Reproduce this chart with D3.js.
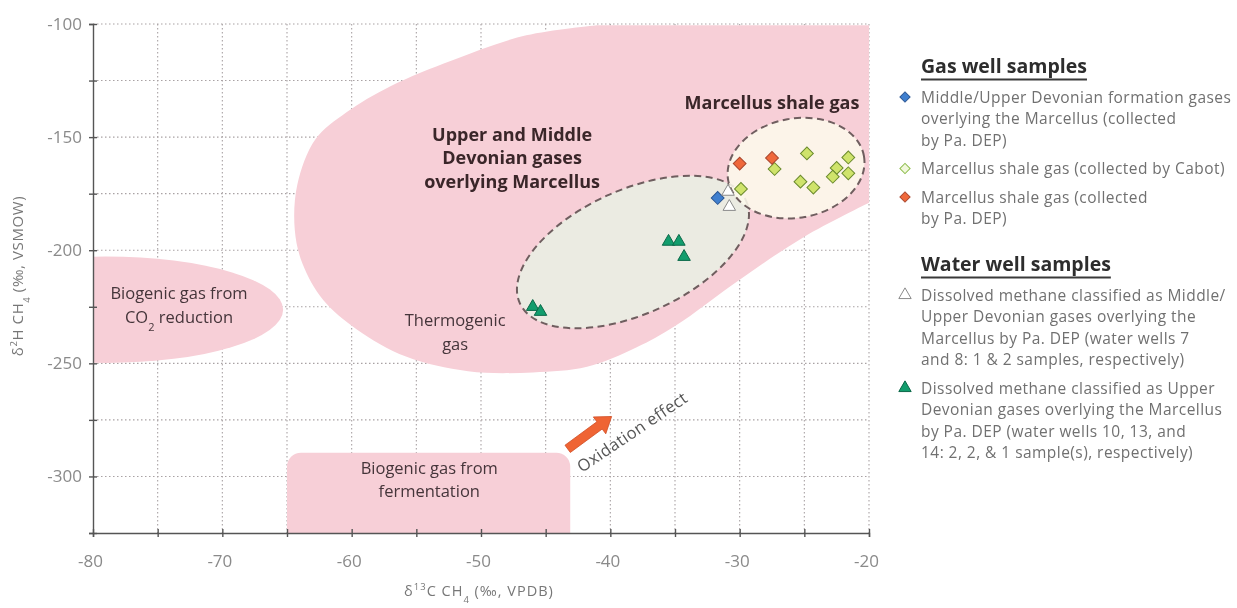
<!DOCTYPE html>
<html lang="en">
<head>
<meta charset="utf-8">
<title>Methane isotopes: gas and water well samples</title>
<script src="https://cdn.jsdelivr.net/npm/d3@7"></script>
<style>
  body { margin: 0; background: #fff; }
  svg text { font-family: "Open Sans", Lato, sans-serif; }
  .axis path, .axis line { stroke: #555; stroke-width: 1.4; }
  .axis text { fill: #8a8a8a; font-size: 17px; }
</style>
</head>
<body>
<svg id="chart" width="1237" height="608"></svg>
<script>

// ---- sample values (delta13C, delta2H) ----
var devonianGas = [[-31.7, -176.9]];
var cabotGas = [[-29.9, -172.9], [-27.3, -164.1], [-24.8, -157.2], [-25.3, -169.7], [-24.3, -172.3],
                [-21.6, -159.0], [-22.5, -163.6], [-21.6, -166.0], [-22.8, -167.5]];
var depGas = [[-30.0, -161.7], [-27.5, -159.2]];
var waterMiddle = [[-30.9, -174.1], [-30.8, -180.8]];
var waterUpper = [[-35.5, -196.2], [-34.7, -196.2], [-34.3, -202.9], [-46.0, -225.0], [-45.4, -227.2]];

// ---- axes ----
var xDomain = [-80, -20];
var yDomain = [-325, -100];
var xTicks = d3.range(-80, -19, 5);
var yTicks = d3.range(-325, -99, 25);

// ---- genetic fields (data units) ----
// curved left/bottom edge of the thermogenic field, closed along the top and right borders
var thermogenicEdge = [[-41, -100.5], [-46.5, -105], [-52.2, -116], [-57, -127.5], [-60.4, -139],
  [-62.8, -151], [-64.2, -171], [-64.4, -191], [-63.8, -206], [-62.2, -222], [-59.6, -235], [-55.8, -247],
  [-51, -253.5], [-46, -254], [-41.8, -251.5], [-38, -243], [-35, -233.5], [-30, -213], [-25, -194], [-20, -179]];
var co2Center = [-79, -226.3], co2Radius = [13.7, 23.5];
var fermentBox = [[-65, -289.5], [-43.1, -335]];
var devonianEllipse = {center: [-38.25, -200.8], axisEnd: [-29.5, -178.2], ratio: 0.5};
var marcellusEllipse = {center: [-25.64, -163.7], axisEnd: [-20.39, -158.4], ratio: 0.72};
var oxidationArrow = [[-43.3, -287.8], [-39.9, -273.5]];

// ---- annotations ----
var fieldLabels = [
  {lines: ["Upper and Middle", "Devonian gases", "overlying Marcellus"], at: [-47.6, -151.7], bold: true},
  {lines: ["Marcellus shale gas"], at: [-27.5, -137.6], bold: true},
  {lines: ["Thermogenic", "gas"], at: [-52.0, -233.5]},
  {lines: ["Biogenic gas from", "CO2 reduction"], at: [-73.35, -221.6]},
  {lines: ["Biogenic gas from", "fermentation"], at: [-54.0, -298.8]}
];

var legendGroups = [
  {title: "Gas well samples", items: [
    {key: "devonian", lines: ["Middle/Upper Devonian formation gases", "overlying the Marcellus (collected", "by Pa. DEP)"]},
    {key: "cabot", lines: ["Marcellus shale gas (collected by Cabot)"]},
    {key: "depGas", lines: ["Marcellus shale gas (collected", "by Pa. DEP)"]}
  ]},
  {title: "Water well samples", items: [
    {key: "waterMiddle", lines: ["Dissolved methane classified as Middle/", "Upper Devonian gases overlying the",
      "Marcellus by Pa. DEP (water wells 7", "and 8: 1 & 2 samples, respectively)"]},
    {key: "waterUpper", lines: ["Dissolved methane classified as Upper", "Devonian gases overlying the Marcellus",
      "by Pa. DEP (water wells 10, 13, and", "14: 2, 2, & 1 sample(s), respectively)"]}
  ]}
];

var seriesStyle = {
  devonian:    {shape: "diamond",  fill: "#3f7fcf", stroke: "#2a5593"},
  cabot:       {shape: "diamond",  fill: "#cfe36b", stroke: "#6a8a2c", legendFill: "#f1f8dc", legendStroke: "#8dbd4c"},
  depGas:      {shape: "diamond",  fill: "#ef683b", stroke: "#a9452c"},
  waterMiddle: {shape: "triangle", fill: "#ffffff", stroke: "#8a8a8a"},
  waterUpper:  {shape: "triangle", fill: "#129d6d", stroke: "#0b6848"}
};

var pink = "#f7cfd7";

var svg = d3.select("#chart");
var x = d3.scaleLinear().domain(xDomain).range([93, 869]);
var y = d3.scaleLinear().domain(yDomain).range([533, 24]);

svg.append("defs").append("clipPath").attr("id", "plotclip")
  .append("rect")
  .attr("x", x(-80)).attr("y", y(-100))
  .attr("width", x(-20) - x(-80)).attr("height", y(-325) - y(-100));

// dotted grid
var grid = svg.append("g");
grid.selectAll("line.v").data(xTicks.slice(1)).enter().append("line")
  .attr("x1", function(d) { return x(d); }).attr("x2", function(d) { return x(d); })
  .attr("y1", y(-100)).attr("y2", y(-325));
grid.selectAll("line.h").data(yTicks.slice(1)).enter().append("line")
  .attr("y1", function(d) { return y(d); }).attr("y2", function(d) { return y(d); })
  .attr("x1", x(-80)).attr("x2", x(-20));
grid.selectAll("line")
  .attr("stroke", "#a9a2a4").attr("stroke-width", 1.1).attr("stroke-dasharray", "1.5,2.5");

// pink fields
var fields = svg.append("g").attr("clip-path", "url(#plotclip)");
var edge = d3.line().x(function(d) { return x(d[0]); }).y(function(d) { return y(d[1]); })
  .curve(d3.curveCatmullRom.alpha(0.5));
fields.append("path")
  .attr("d", edge(thermogenicEdge) + "L" + x(-20) + "," + y(-100.5) + "Z")
  .attr("fill", pink).style("mix-blend-mode", "multiply");
fields.append("ellipse")
  .attr("cx", x(co2Center[0])).attr("cy", y(co2Center[1]))
  .attr("rx", x(co2Center[0] + co2Radius[0]) - x(co2Center[0]))
  .attr("ry", y(co2Center[1] - co2Radius[1]) - y(co2Center[1]))
  .attr("fill", pink).style("mix-blend-mode", "multiply");
fields.append("rect")
  .attr("x", x(fermentBox[0][0])).attr("y", y(fermentBox[0][1]))
  .attr("width", x(fermentBox[1][0]) - x(fermentBox[0][0]))
  .attr("height", y(fermentBox[1][1]) - y(fermentBox[0][1]))
  .attr("rx", 14)
  .attr("fill", pink).style("mix-blend-mode", "multiply");

// dashed sample ellipses
function drawEllipse(e, fill) {
  var cx = x(e.center[0]), cy = y(e.center[1]);
  var ex = x(e.axisEnd[0]), ey = y(e.axisEnd[1]);
  var a = Math.hypot(ex - cx, ey - cy);
  var ang = Math.atan2(ey - cy, ex - cx) * 180 / Math.PI;
  fields.append("ellipse")
    .attr("transform", "translate(" + cx + "," + cy + ") rotate(" + ang + ")")
    .attr("rx", a).attr("ry", a * e.ratio)
    .attr("fill", fill).attr("fill-opacity", 0.88)
    .attr("stroke", "#6f5e5f").attr("stroke-width", 2).attr("stroke-dasharray", "7,4.5");
}
drawEllipse(devonianEllipse, "#e9efe4");
drawEllipse(marcellusEllipse, "#fdf9ec");

// axes
var yAxis = svg.append("g").attr("class", "axis")
  .attr("transform", "translate(" + x(-80) + ",0)")
  .call(d3.axisLeft(y).tickValues(yTicks).tickSizeOuter(0).tickSize(4).tickPadding(7)
    .tickFormat(function(d) { return d % 50 === 0 ? String(d) : ""; }));
yAxis.selectAll(".tick line").attr("x1", 4);
var xAxis = svg.append("g").attr("class", "axis")
  .attr("transform", "translate(0," + y(-325) + ")")
  .call(d3.axisBottom(x).tickValues(xTicks).tickSizeOuter(0).tickSize(4).tickPadding(18)
    .tickFormat(function(d) { return d % 10 === 0 ? String(d) : ""; }));
xAxis.selectAll(".tick line").attr("y1", -4);
xAxis.selectAll(".tick text").attr("dx", "-3");

// axis titles
function isoTitle(sel, mass, el, ref) {
  sel.append("tspan").text("δ");
  sel.append("tspan").attr("baseline-shift", "super").attr("font-size", 9.5).text(mass);
  sel.append("tspan").text(el + " CH");
  sel.append("tspan").attr("baseline-shift", "sub").attr("font-size", 9.5).text("4");
  sel.append("tspan").text(" (‰, " + ref + ")");
}
var yTitle = svg.append("text")
  .attr("transform", "translate(23,276) rotate(-90)")
  .attr("text-anchor", "middle").attr("fill", "#777").attr("font-size", 15).attr("letter-spacing", 0.6);
isoTitle(yTitle, "2", "H", "VSMOW");
var xTitle = svg.append("text")
  .attr("x", 479).attr("y", 596)
  .attr("text-anchor", "middle").attr("fill", "#777").attr("font-size", 14.5).attr("letter-spacing", 1);
isoTitle(xTitle, "13", "C", "VPDB");

// field labels
fieldLabels.forEach(function(l) {
  var t = svg.append("text")
    .attr("text-anchor", "middle")
    .attr("fill", l.bold ? "#3a2629" : "#45353a")
    .attr("font-size", l.bold ? 18 : 16.5)
    .attr("font-weight", l.bold ? 700 : 400);
  l.lines.forEach(function(line, i) {
    var ts = t.append("tspan").attr("x", x(l.at[0])).attr("y", y(l.at[1]) + i * 23.5);
    if (line.indexOf("CO2") === 0) {
      ts.text("CO");
      t.append("tspan").attr("baseline-shift", "sub").attr("font-size", 11).text("2");
      t.append("tspan").text(line.slice(3));
    } else {
      ts.text(line);
    }
  });
});

// oxidation arrow
(function() {
  var p0 = [x(oxidationArrow[0][0]), y(oxidationArrow[0][1])];
  var p1 = [x(oxidationArrow[1][0]), y(oxidationArrow[1][1])];
  var dx = p1[0] - p0[0], dy = p1[1] - p0[1], len = Math.hypot(dx, dy);
  var ux = dx / len, uy = dy / len, nx = -uy, ny = ux;
  var head = 15, shaft = 4.5, wing = 10.5;
  var nk = [p1[0] - ux * head, p1[1] - uy * head];
  var pts = [
    [p0[0] + nx * shaft, p0[1] + ny * shaft],
    [nk[0] + nx * shaft, nk[1] + ny * shaft],
    [nk[0] + nx * wing, nk[1] + ny * wing],
    p1,
    [nk[0] - nx * wing, nk[1] - ny * wing],
    [nk[0] - nx * shaft, nk[1] - ny * shaft],
    [p0[0] - nx * shaft, p0[1] - ny * shaft]
  ];
  svg.append("polygon").attr("points", pts.map(function(p) { return p.join(","); }).join(" "))
    .attr("fill", "#ef6434").attr("stroke", "#cf4c25").attr("stroke-width", 0.8);
})();
svg.append("text")
  .attr("transform", "translate(" + x(-38.3) + "," + y(-280.4) + ") rotate(-34)")
  .attr("text-anchor", "middle").attr("dy", "0.35em")
  .attr("fill", "#555").attr("font-size", 16.5).attr("letter-spacing", 0.4)
  .text("Oxidation effect");

// sample markers
function symbolPath(shape, size) {
  return shape === "diamond" ? d3.symbol(d3.symbolSquare, size)() : d3.symbol(d3.symbolTriangle, size)();
}
function drawSeries(key, data) {
  var st = seriesStyle[key];
  svg.append("g").selectAll("path").data(data).enter().append("path")
    .attr("d", symbolPath(st.shape, st.shape === "diamond" ? 82 : 68))
    .attr("transform", function(d) {
      return "translate(" + x(d[0]) + "," + y(d[1]) + ")" + (st.shape === "diamond" ? " rotate(45)" : "");
    })
    .attr("fill", st.fill).attr("stroke", st.stroke).attr("stroke-width", 1);
}
drawSeries("cabot", cabotGas);
drawSeries("depGas", depGas);
drawSeries("devonian", devonianGas);
drawSeries("waterMiddle", waterMiddle);
drawSeries("waterUpper", waterUpper);

// legend
var lg = svg.append("g");
var lx = 905, tx = 921, cy = 67;
legendGroups.forEach(function(g, gi) {
  if (gi > 0) cy += 46.5;
  var title = lg.append("text").attr("x", tx).attr("y", cy + 6)
    .attr("font-size", 19.5).attr("font-weight", 700).attr("fill", "#2d2d2d").text(g.title);
  var w = title.node().getComputedTextLength();
  lg.append("line").attr("x1", tx).attr("x2", tx + w).attr("y1", cy + 12.5).attr("y2", cy + 12.5)
    .attr("stroke", "#3a3a3a").attr("stroke-width", 2);
  cy += 30;
  g.items.forEach(function(it, ii) {
    if (ii > 0) cy += 28.5;
    var st = seriesStyle[it.key];
    lg.append("path")
      .attr("d", symbolPath(st.shape, st.shape === "diamond" ? 52 : 66))
      .attr("transform", "translate(" + lx + "," + cy + ")" + (st.shape === "diamond" ? " rotate(45)" : ""))
      .attr("fill", st.legendFill || st.fill).attr("stroke", st.legendStroke || st.stroke).attr("stroke-width", 1);
    it.lines.forEach(function(line, li) {
      if (li > 0) cy += 21.5;
      lg.append("text").attr("x", tx).attr("y", cy + 5.5)
        .attr("font-size", 15.5).attr("letter-spacing", 0.45).attr("fill", "#707070").text(line);
    });
  });
});

</script>
</body>
</html>
